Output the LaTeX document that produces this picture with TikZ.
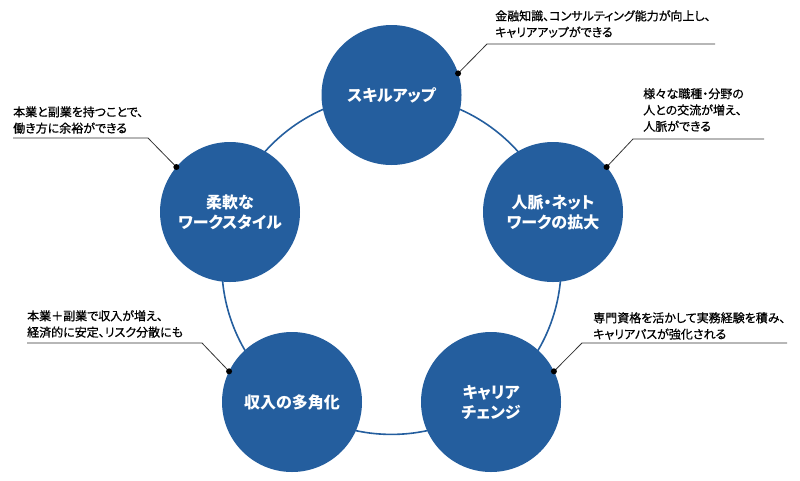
\documentclass[tikz,border=0pt]{standalone}
\usepackage{fontspec}
\setmainfont{Noto Sans CJK JP}[RawFeature=+palt]
\newfontfamily\notefont{Noto Sans CJK JP}[RawFeature=+palt,FakeBold=0.7]
\definecolor{bblue}{HTML}{245E9E}
\definecolor{lgray}{HTML}{333333}
\begin{document}
\begin{tikzpicture}[x=1pt,y=-1pt,
  bub/.style={circle,fill=bblue,minimum size=140pt,inner sep=0pt,outer sep=0pt,
    text=white,font=\fontsize{16}{20}\selectfont\bfseries,align=center},
  note/.style={anchor=west,align=left,inner sep=0pt,
    font=\notefont\fontsize{12}{16.3}\selectfont},
  callout/.style={draw=lgray,line width=0.8pt},
  dot/.style={circle,fill=black,inner sep=0pt,minimum size=6pt}]
\useasboundingbox (0,0) rectangle (800,480);
\coordinate (ringc) at (391.5,264.7);
\draw[bblue,line width=1.6pt] (ringc) circle (169.7);
\node[bub] (skill) at (391.5,95) {スキルアップ};
\node[bub] (jinmyaku) at (553,212) {人脈・ネット\\ワークの拡大};
\node[bub] (career) at (491,402) {キャリア\\チェンジ};
\node[bub] (income) at (292,402) {収入の多角化};
\node[bub] (flex) at (230,212) {柔軟な\\ワークスタイル};
% callout 1
\coordinate (k1) at (487,44);
\coordinate (e1) at (715,44);
\draw[callout] (skill.18) -- (k1) -- (e1);
\node[dot] (d1) at (skill.18) {};
\node[note] (t1) at (495,24) {金融知識、コンサルティング能力が向上し、\\キャリアアップができる};
% callout 2
\coordinate (k2) at (633,139);
\coordinate (e2) at (764,139);
\draw[callout] (jinmyaku.40) -- (k2) -- (e2);
\node[dot] (d2) at (jinmyaku.40) {};
\node[note] (t2) at (643,110) {様々な職種・分野の\\人との交流が増え、\\人脈ができる};
% callout 3
\coordinate (k3) at (148,138);
\coordinate (e3) at (13,138);
\draw[callout] (flex.140) -- (k3) -- (e3);
\node[dot] (d3) at (flex.140) {};
\node[note] (t3) at (13,120) {本業と副業を持つことで、\\働き方に余裕ができる};
% callout 4
\coordinate (k4) at (202,343);
\coordinate (e4) at (27,343);
\draw[callout] (income.154) -- (k4) -- (e4);
\node[dot] (d4) at (income.154) {};
\node[note] (t4) at (27,324) {本業＋副業で収入が増え、\\経済的に安定、リスク分散にも};
% callout 5
\coordinate (k5) at (582,343);
\coordinate (e5) at (787,343);
\draw[callout] (career.26) -- (k5) -- (e5);
\node[dot] (d5) at (career.26) {};
\node[note] (t5) at (593,326) {専門資格を活かして実務経験を積み、\\キャリアパスが強化される};
\end{tikzpicture}
\end{document}
